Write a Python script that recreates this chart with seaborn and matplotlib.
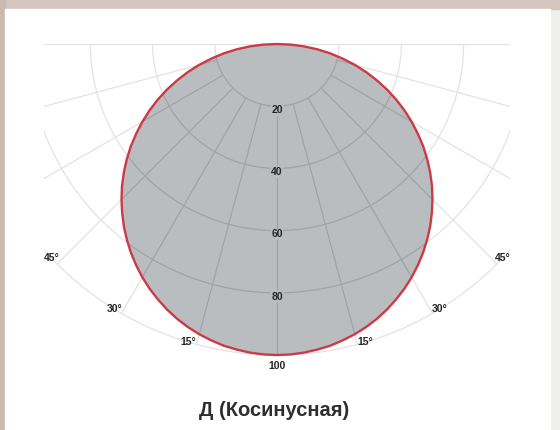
import numpy as np
import pandas as pd
import matplotlib
matplotlib.use("Agg")
import matplotlib.pyplot as plt
from matplotlib.patches import Rectangle
import seaborn as sns

# luminous intensity curve (relative units, angle from the downward vertical)
angles = [-90, -87.5, -85, -82.5, -80, -77.5, -75, -72.5, -70, -67.5, -65, -62.5, -60, -57.5, -55, -52.5,
          -50, -47.5, -45, -42.5, -40, -37.5, -35, -32.5, -30, -27.5, -25, -22.5, -20, -17.5, -15, -12.5,
          -10, -7.5, -5, -2.5, 0, 2.5, 5, 7.5, 10, 12.5, 15, 17.5, 20, 22.5, 25, 27.5, 30, 32.5, 35, 37.5,
          40, 42.5, 45, 47.5, 50, 52.5, 55, 57.5, 60, 62.5, 65, 67.5, 70, 72.5, 75, 77.5, 80, 82.5, 85,
          87.5, 90]
intensity = [0, 4.4, 8.7, 13.1, 17.4, 21.6, 25.9, 30.1, 34.2, 38.3, 42.3, 46.2, 50.0, 53.7, 57.4, 60.9,
             64.3, 67.6, 70.7, 73.7, 76.6, 79.3, 81.9, 84.3, 86.6, 88.7, 90.6, 92.4, 94.0, 95.4, 96.6, 97.6,
             98.5, 99.1, 99.6, 99.9, 100, 99.9, 99.6, 99.1, 98.5, 97.6, 96.6, 95.4, 94.0, 92.4, 90.6, 88.7,
             86.6, 84.3, 81.9, 79.3, 76.6, 73.7, 70.7, 67.6, 64.3, 60.9, 57.4, 53.7, 50.0, 46.2, 42.3, 38.3,
             34.2, 30.1, 25.9, 21.6, 17.4, 13.1, 8.7, 4.4, 0]
radii = [20, 40, 60, 80, 100]
radial_angles = [-75, -60, -45, -30, -15, 0, 15, 30, 45, 60, 75]
angle_labels = [15, 30, 45]
title = "Д (Косинусная)"

sns.set_theme(style="white")
plt.rcParams["font.family"] = ["Liberation Sans", "DejaVu Sans"]

FILL = "#b9bdbf"
EDGE = "#cc3a47"
GRID_OUT = "#e3e3e3"
GRID_IN = "#a0a4a6"
TXT = "#262626"

fig = plt.figure(figsize=(5.6, 4.3), dpi=100)
fig.patch.set_facecolor("#f1efee")
# frame of the original picture
fig.patches.append(Rectangle((0, 421 / 430), 1, 9 / 430, transform=fig.transFigure,
                             color="#d3c6bf", zorder=-5))
fig.patches.append(Rectangle((0, 0), 5 / 560, 1, transform=fig.transFigure,
                             color="#cbb8ae", zorder=-5))
fig.patches.append(Rectangle((5 / 560, 0), 545 / 560, 421 / 430, transform=fig.transFigure,
                             color="white", zorder=-5))

ax = fig.add_axes([0, 0, 1, 1])
ax.set_facecolor("none")

th = np.radians(np.array(angles, dtype=float))
df = pd.DataFrame({"x": np.array(intensity) * np.sin(th),
                   "y": -np.array(intensity) * np.cos(th)})

clip_rect = Rectangle((-75, -112), 150, 112, transform=ax.transData, fill=False, lw=0)
ax.add_patch(clip_rect)


def draw_grid(color, clip, z):
    lines = []
    t = np.radians(np.linspace(-90, 90, 361))
    for r in radii:
        lines += ax.plot(r * np.sin(t), -r * np.cos(t), color=color, lw=0.9, zorder=z)
    for a in radial_angles:
        ar = np.radians(a)
        r_end = 110 if abs(a) > 45 else 100
        lines += ax.plot([20 * np.sin(ar), r_end * np.sin(ar)],
                         [-20 * np.cos(ar), -r_end * np.cos(ar)],
                         color=color, lw=0.9, zorder=z)
    lines += ax.plot([-80, 80], [0, 0], color=color, lw=0.9, zorder=z)
    for ln in lines:
        ln.set_clip_path(clip)


draw_grid(GRID_OUT, clip_rect, 1)
poly = ax.fill(df["x"], df["y"], color=FILL, lw=0, zorder=2)[0]
draw_grid(GRID_IN, poly, 3)
sns.lineplot(data=df, x="x", y="y", sort=False, estimator=None, color=EDGE,
             lw=1.7, ax=ax, zorder=5)
ax.set_xlim(-89.07, 91.0)
ax.set_ylim(-124.1, 14.15)
ax.axis("off")

for r in radii:
    if r < 100:
        ax.text(0, -r - 1.2, str(r), ha="center", va="center", fontsize=7.5,
                fontweight="bold", color=TXT, zorder=6,
                bbox=dict(facecolor=FILL, edgecolor="none", pad=0.5))
    else:
        ax.text(0, -r - 3.6, str(r), ha="center", va="center", fontsize=7.5,
                fontweight="bold", color=TXT, zorder=6)

for a in angle_labels:
    for s in (-1, 1):
        ar = np.radians(a + 1.5)
        ax.text(s * 100 * np.sin(ar), -100 * np.cos(ar), f"{a}°", ha="center", va="center",
                fontsize=7.5, fontweight="bold", color=TXT, zorder=6)

ax.text(-1, -117.7, title, ha="center", va="center", fontsize=14.5,
        fontweight="bold", color="#2e2e2e")

fig.savefig("out.png", dpi=100)
plt.close(fig)
